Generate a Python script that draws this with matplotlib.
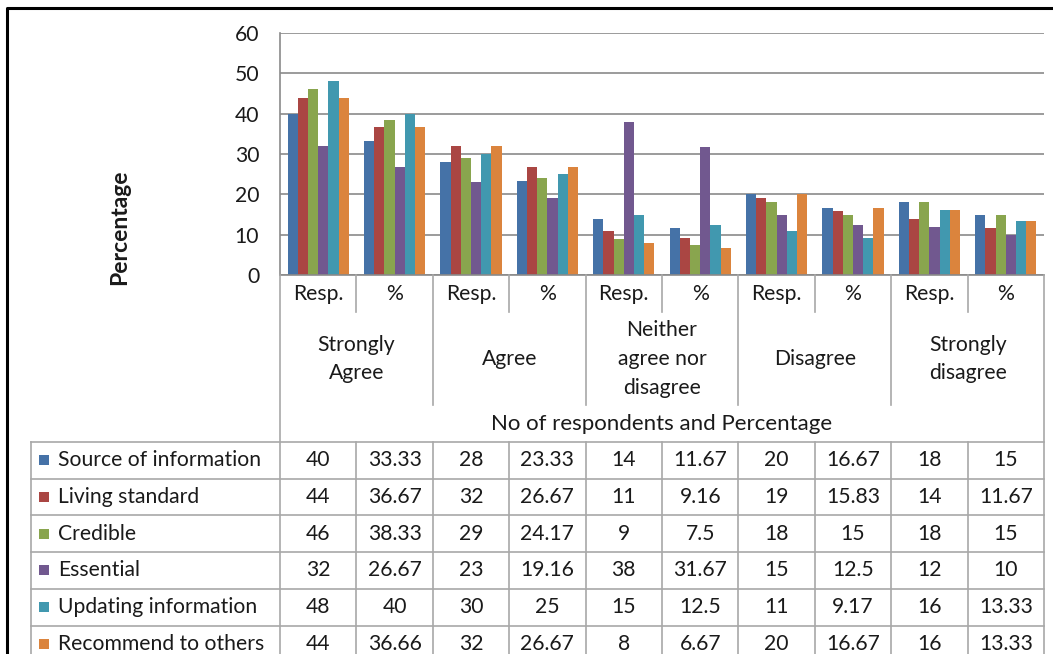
import matplotlib
matplotlib.use("Agg")
import matplotlib.pyplot as plt
from matplotlib.lines import Line2D
from matplotlib.patches import Rectangle
import numpy as np

plt.rcParams['font.family'] = ['Lato', 'DejaVu Sans']

# ---- data -------------------------------------------------------------
sub_labels = ["Resp.", "%"] * 5
groups = ["Strongly\nAgree", "Agree", "Neither\nagree nor\ndisagree",
          "Disagree", "Strongly\ndisagree"]
series_names = ["Source of information", "Living standard", "Credible",
                "Essential", "Updating information", "Recommend to others"]
source_info = [40, 33.33, 28, 23.33, 14, 11.67, 20, 16.67, 18, 15]
living_std = [44, 36.67, 32, 26.67, 11, 9.16, 19, 15.83, 14, 11.67]
credible = [46, 38.33, 29, 24.17, 9, 7.5, 18, 15, 18, 15]
essential = [32, 26.67, 23, 19.16, 38, 31.67, 15, 12.5, 12, 10]
updating = [48, 40, 30, 25, 15, 12.5, 11, 9.17, 16, 13.33]
recommend = [44, 36.66, 32, 26.67, 8, 6.67, 20, 16.67, 16, 13.33]
series = [source_info, living_std, credible, essential, updating, recommend]
colors = ["#4572A7", "#AA4643", "#89A54E", "#71588F", "#4198AF", "#DB843D"]
y_label = "Percentage"
x_title = "No of respondents and Percentage"

# ---- layout (pixels) --------------------------------------------------
W, H = 1053, 654
fig = plt.figure(figsize=(W / 100, H / 100), dpi=100)
fig.patch.set_facecolor("white")

PL, PR, PT, PB = 280, 1044, 33, 275
GRID = "#8a8a8a"
LINE = "#a8a8a8"
TXT = "#1a1a1a"
FS = 15.2


def fx(x):
    return x / W


def fy(y):
    return 1 - y / H


def seg(x0, y0, x1, y1, color=LINE, lw=1.2):
    fig.add_artist(Line2D([fx(x0), fx(x1)], [fy(y0), fy(y1)],
                          transform=fig.transFigure, color=color, lw=lw))


def txt(x, y, s, ha="center", **kw):
    fig.text(fx(x), fy(y), s, ha=ha, va="center", fontsize=kw.pop("fontsize", FS),
             color=kw.pop("color", TXT), **kw)


ax = fig.add_axes([fx(PL), fy(PB), (PR - PL) / W, (PB - PT) / H])
n_cat = len(sub_labels)
n_ser = len(series)
bw = 1 / (n_ser + 1.5)
x = np.arange(n_cat) + 0.5
for j, (vals, c) in enumerate(zip(series, colors)):
    ax.bar(x + (j - (n_ser - 1) / 2) * bw, vals, width=bw, color=c,
           linewidth=0, zorder=3)

ax.set_xlim(0, n_cat)
ax.set_ylim(0, 60)
ax.set_yticks(np.arange(0, 61, 10))
ax.set_xticks([])
ax.tick_params(axis="y", length=0, pad=15, labelsize=FS, labelcolor=TXT)
ax.grid(axis="y", color=GRID, lw=1.2, zorder=0)
for s in ["top", "right", "bottom"]:
    ax.spines[s].set_visible(False)
ax.spines["left"].set_color(GRID)
ax.spines["left"].set_linewidth(1.2)
ax.set_facecolor("none")

# y-axis title
txt(120, 227, y_label, rotation=90, fontweight="bold", fontsize=16.5)

# ---- category axis boxes ---------------------------------------------
cw = (PR - PL) / n_cat
seg(PL, PB, PR, PB, color=GRID)
seg(PL, PB, PL, H + 5)
seg(PR, PB, PR, H + 5)
for k in range(n_cat):
    cx = PL + (k + 0.5) * cw
    txt(cx, 294, sub_labels[k])
    if k % 2 == 0:
        seg(PL + (k + 1) * cw, PB, PL + (k + 1) * cw, 312)
    elif k < n_cat - 1:
        seg(PL + (k + 1) * cw, PB, PL + (k + 1) * cw, 405)
for g, name in enumerate(groups):
    gx = PL + (2 * g + 1) * cw
    txt(gx, 359, name, linespacing=1.55)
txt((PL + PR) / 2, 424, x_title, fontsize=16)

# ---- data table ------------------------------------------------------
TL, TT, RH = 31, 442, 36.7
seg(TL, TT, PR, TT)
seg(TL, TT, TL, H + 5)
for k in range(1, n_cat):
    seg(PL + k * cw, TT, PL + k * cw, H + 5)
for i, (name, vals, c) in enumerate(zip(series_names, series, colors)):
    yc = TT + (i + 0.5) * RH
    seg(TL, TT + (i + 1) * RH, PR, TT + (i + 1) * RH)
    fig.add_artist(Rectangle((fx(39), fy(yc + 5)), 9.5 / W, 10 / H,
                             transform=fig.transFigure, color=c, lw=0))
    txt(58, yc, name, ha="left")
    for k, v in enumerate(vals):
        txt(PL + (k + 0.5) * cw, yc, f"{v:g}")

# outer frame
fig.add_artist(Line2D([fx(7), fx(7), fx(W + 5)], [fy(H + 5), fy(7.5), fy(7.5)],
                      transform=fig.transFigure, color="black", lw=2.2))

fig.savefig("out.png", dpi=100, facecolor="white")
